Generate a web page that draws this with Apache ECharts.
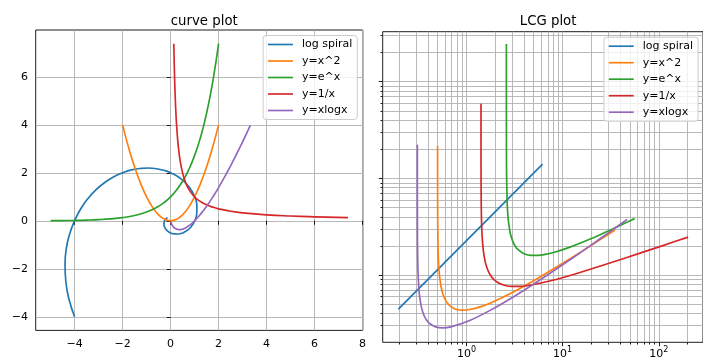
<!DOCTYPE html>
<html><head><meta charset="utf-8">
<script src="https://cdn.jsdelivr.net/npm/echarts@6/dist/echarts.min.js"></script>
<style>html,body{margin:0;padding:0;background:#fff}#c{width:703px;height:360px}</style>
</head><body><div id="c"></div>
<script>
const seriesNames = ['log spiral', 'y=x^2', 'y=e^x', 'y=1/x', 'y=xlogx'];
const colors = ['#1f77b4', '#ff7f0e', '#2ca02c', '#d62728', '#9467bd'];

// ---- left panel: "curve plot" ----
const spiralX = [-4.000, -4.237, -4.365, -4.398, -4.347, -4.206, -4.000, -3.748, -3.448, -3.113, -2.754, -2.382, -2.001, -1.629, -1.260, -0.913, -0.582, -0.277, 0.000, 0.463, 0.795, 1.004, 1.096, 1.090, 1.005, 0.866, 0.691, 0.504, 0.317, 0.146, 0.000, -0.116, -0.200, -0.252, -0.275, -0.273, -0.252, -0.217, -0.173, -0.127];
const spiralY = [-4.000, -3.252, -2.520, -1.822, -1.165, -0.554, 0.000, 0.493, 0.924, 1.289, 1.590, 1.828, 2.001, 2.123, 2.182, 2.203, 2.173, 2.107, 2.010, 1.729, 1.377, 1.004, 0.633, 0.292, 0.000, -0.232, -0.399, -0.504, -0.549, -0.546, -0.504, -0.434, -0.346, -0.252, -0.159, -0.073, 0.000, 0.058, 0.100, 0.127];
const squareX = [-2, -1.75, -1.5, -1.25, -1, -0.75, -0.5, -0.25, 0, 0.25, 0.5, 0.75, 1, 1.25, 1.5, 1.75, 2];
const squareY = [4, 3.0625, 2.25, 1.5625, 1, 0.5625, 0.25, 0.0625, 0, 0.0625, 0.25, 0.5625, 1, 1.5625, 2.25, 3.0625, 4];
const expX = [-5, -4.5, -4, -3.5, -3, -2.5, -2, -1.5, -1, -0.75, -0.5, -0.25, 0, 0.25, 0.5, 0.75, 1, 1.25, 1.5, 1.75, 2];
const expY = [0.0067, 0.0111, 0.0183, 0.0302, 0.0498, 0.0821, 0.1353, 0.2231, 0.3679, 0.4724, 0.6065, 0.7788, 1, 1.2840, 1.6487, 2.1170, 2.7183, 3.4903, 4.4817, 5.7546, 7.3891];
const invX = [0.135, 0.15, 0.175, 0.2, 0.225, 0.25, 0.3, 0.35, 0.4, 0.5, 0.6, 0.7, 0.85, 1, 1.2, 1.5, 1.75, 2, 2.5, 3, 4, 5, 6, 7.389];
const invY = [7.389, 6.667, 5.714, 5, 4.444, 4, 3.333, 2.857, 2.5, 2, 1.667, 1.429, 1.176, 1, 0.833, 0.667, 0.571, 0.5, 0.4, 0.333, 0.25, 0.2, 0.167, 0.135];
const xlogxX = [0.01, 0.03, 0.06, 0.1, 0.15, 0.2, 0.3, 0.368, 0.45, 0.6, 0.8, 1, 1.25, 1.5, 1.75, 2, 2.5, 3, 3.32];
const xlogxY = [-0.046, -0.105, -0.169, -0.230, -0.285, -0.322, -0.361, -0.368, -0.359, -0.306, -0.179, 0, 0.279, 0.608, 0.979, 1.386, 2.291, 3.296, 3.984];
const curveXTicks = [-4, -2, 0, 2, 4, 6, 8];
const curveYTicks = [-4, -2, 0, 2, 4, 6];

// ---- right panel: "LCG plot" (log-log) ----
const lcgSpiralX = [0.1956, 6.18];
const lcgSpiralY = [0.4445, 14.05];
const lcgSquareX = [0.5000, 0.5003, 0.5012, 0.5048, 0.5091, 0.5148, 0.5218, 0.5303, 0.5476, 0.569, 0.5946, 0.6247, 0.6988, 0.793, 0.9186, 1.0501, 1.4142, 1.9057, 2.9295, 5.59, 9.761, 15.811, 24.116, 35.046];
const lcgSquareY = [21.6, 8.34, 4.18, 2.103, 1.543, 1.226, 1.023, 0.884, 0.730, 0.632, 0.566, 0.5206, 0.4659, 0.4406, 0.4331, 0.4375, 0.4714, 0.5294, 0.651, 0.9317, 1.3015, 1.7568, 2.2967, 2.9205];
const lcgExpX = [2.5981, 2.59826, 2.59875, 2.60206, 2.61279, 2.64926, 2.68357, 2.72929, 2.82843, 2.91671, 3.05929, 3.22749, 3.40268, 3.85934, 4.6188, 5.59017, 6.5727, 8.55238, 11.5369, 16.5247, 23.5169, 33.5119, 46.5084, 56.1049];
const lcgExpY = [246, 92.78, 46.85, 19.30, 10.12, 5.541, 4.361, 3.595, 2.828, 2.489, 2.180, 1.976, 1.849, 1.684, 1.600, 1.597, 1.633, 1.741, 1.920, 2.207, 2.565, 3.009, 3.505, 3.832];
const lcgInvX = [1.4143, 1.41464, 1.41589, 1.41792, 1.42432, 1.43371, 1.45305, 1.49844, 1.55918, 1.63435, 1.72331, 1.82567, 1.94119, 2.21144, 2.53422, 2.91066, 3.57973, 4.3808, 8.1145, 13.7507, 32.1877, 62.65, 108.125, 201.81];
const lcgInvY = [59.1, 23.70, 11.91, 7.99, 4.858, 3.521, 2.526, 1.764, 1.394, 1.181, 1.046, 0.9555, 0.8926, 0.8165, 0.7788, 0.7628, 0.7624, 0.7788, 0.8883, 1.0313, 1.3464, 1.6734, 2.0039, 2.4651];
const lcgXlogxX = [0.3080, 0.30804, 0.30814, 0.30884, 0.31014, 0.31377, 0.31944, 0.32739, 0.33788, 0.35125, 0.36788, 0.38819, 0.41268, 0.47656, 0.56511, 0.68567, 1.06313, 1.71951, 2.82843, 4.65528, 7.59723, 12.2392, 19.4306, 30.3914, 46.8569];
const lcgXlogxY = [22.29, 11.45, 6.213, 2.598, 1.632, 1.004, 0.726, 0.5719, 0.4759, 0.4120, 0.3679, 0.3368, 0.3150, 0.2906, 0.2840, 0.2905, 0.3364, 0.4256, 0.5657, 0.7707, 1.0611, 1.4640, 2.0156, 2.7629, 3.7666];
const lcgMajorTicks = [1, 10, 100];
const lcgXMinorTicks = [0.2, 0.3, 0.4, 0.5, 0.6, 0.7, 0.8, 0.9, 2, 3, 4, 5, 6, 7, 8, 9, 20, 30, 40, 50, 60, 70, 80, 90, 200];
const lcgYMinorTicks = [0.3, 0.4, 0.5, 0.6, 0.7, 0.8, 0.9, 2, 3, 4, 5, 6, 7, 8, 9, 20, 30, 40, 50, 60, 70, 80, 90, 200, 300];

const FONT = 'DejaVu Sans';
const zip = (xs, ys) => xs.map((x, i) => [x, ys[i]]);
const minus = v => String(v).replace('-', '\u2212');
const gridLine = { show: true, lineStyle: { color: '#b0b0b0', width: 0.89 } };
const tickStyle = { color: '#000', width: 0.89 };

function line(name, data, xi, yi, color, smooth) {
  return {
    type: 'line', name, data, xAxisIndex: xi, yAxisIndex: yi,
    symbol: 'none', smooth, animation: false, silent: true,
    lineStyle: { color, width: 1.67 }, itemStyle: { color }
  };
}

const legendBase = {
  data: seriesNames, orient: 'vertical', itemWidth: 25, itemHeight: 12, itemGap: 5.5,
  padding: [3.5, 5, 3.5, 4], backgroundColor: 'rgba(255,255,255,0.8)',
  borderColor: '#cccccc', borderWidth: 1, borderRadius: 3, selectedMode: false,
  itemStyle: { opacity: 0 },
  lineStyle: { width: 1.67 },
  textStyle: { fontFamily: FONT, fontSize: 11, color: '#000', padding: [0, 0, 0, 4] }
};

const option = {
  backgroundColor: '#fff',
  animation: false,
  title: [
    { text: 'curve plot', left: 199.25, textAlign: 'center', top: 10,
      textStyle: { fontFamily: FONT, fontSize: 13.3, fontWeight: 'normal', color: '#000' } },
    { text: 'LCG plot', left: 543.1, textAlign: 'center', top: 10,
      textStyle: { fontFamily: FONT, fontSize: 13.3, fontWeight: 'normal', color: '#000' } }
  ],
  legend: [
    Object.assign({}, legendBase, { right: 345.7, top: 35.5 }),
    Object.assign({}, legendBase, { right: 4.9, top: 37.2 })
  ],
  grid: [
    { left: 35.7, top: 30, width: 327.1, height: 300.4, show: true, borderColor: '#000', borderWidth: 0.89, backgroundColor: 'transparent' },
    { left: 382.7, top: 31.7, width: 320.9, height: 310.6, show: true, borderColor: '#000', borderWidth: 0.89, backgroundColor: 'transparent' }
  ],
  xAxis: [
    { type: 'value', gridIndex: 0, min: -5.619, max: 8.008,
      axisLine: { show: false },
      axisTick: { customValues: curveXTicks, length: 3.9, lineStyle: tickStyle },
      axisLabel: { customValues: curveXTicks, formatter: minus, margin: 7.8, fontFamily: FONT, fontSize: 11, color: '#000' },
      splitLine: gridLine },
    { type: 'log', logBase: 10, gridIndex: 1, position: 'bottom', min: 0.1343, max: 288.4,
      axisLine: { show: false },
      axisTick: { customValues: lcgMajorTicks, length: 3.9, lineStyle: tickStyle },
      axisLabel: { customValues: lcgMajorTicks, margin: 3.5, color: '#000',
        formatter: v => '{b|10}{s|' + Math.round(Math.log10(v)) + '}',
        rich: { b: { fontFamily: FONT, fontSize: 11, lineHeight: 12, padding: [4, 0, 0, 0], color: '#000' },
                s: { fontFamily: FONT, fontSize: 8, lineHeight: 9, verticalAlign: 'top', color: '#000' } } },
      splitLine: gridLine },
    { type: 'log', logBase: 10, gridIndex: 1, position: 'bottom', min: 0.1343, max: 288.4,
      axisLine: { show: false },
      axisTick: { customValues: lcgXMinorTicks, length: 2.2, lineStyle: tickStyle },
      axisLabel: { show: false },
      splitLine: gridLine }
  ],
  yAxis: [
    { type: 'value', gridIndex: 0, min: -4.569, max: 7.958,
      axisLine: { show: false },
      axisTick: { customValues: curveYTicks, length: 3.9, lineStyle: tickStyle },
      axisLabel: { customValues: curveYTicks, formatter: minus, margin: 7.8, fontFamily: FONT, fontSize: 11, color: '#000' },
      splitLine: gridLine },
    { type: 'log', logBase: 10, gridIndex: 1, position: 'left', min: 0.2014, max: 328.9,
      axisLine: { show: false },
      axisTick: { customValues: lcgMajorTicks, length: 3.9, lineStyle: tickStyle },
      axisLabel: { show: false },
      splitLine: gridLine },
    { type: 'log', logBase: 10, gridIndex: 1, position: 'left', min: 0.2014, max: 328.9,
      axisLine: { show: false },
      axisTick: { customValues: lcgYMinorTicks, length: 2.2, lineStyle: tickStyle },
      axisLabel: { show: false },
      splitLine: gridLine }
  ],
  series: [
    line(seriesNames[0], zip(spiralX, spiralY), 0, 0, colors[0], 0.5),
    line(seriesNames[1], zip(squareX, squareY), 0, 0, colors[1], 0.5),
    line(seriesNames[2], zip(expX, expY), 0, 0, colors[2], 0.5),
    line(seriesNames[3], zip(invX, invY), 0, 0, colors[3], 0.5),
    line(seriesNames[4], zip(xlogxX, xlogxY), 0, 0, colors[4], 0.5),
    line(seriesNames[0], zip(lcgSpiralX, lcgSpiralY), 1, 1, colors[0], false),
    line(seriesNames[1], zip(lcgSquareX, lcgSquareY), 1, 1, colors[1], 0.3),
    line(seriesNames[2], zip(lcgExpX, lcgExpY), 1, 1, colors[2], 0.3),
    line(seriesNames[3], zip(lcgInvX, lcgInvY), 1, 1, colors[3], 0.3),
    line(seriesNames[4], zip(lcgXlogxX, lcgXlogxY), 1, 1, colors[4], 0.3)
  ]
};

const chart = echarts.init(document.getElementById('c'), null, { renderer: 'canvas' });
chart.setOption(option);
</script>
</body></html>
